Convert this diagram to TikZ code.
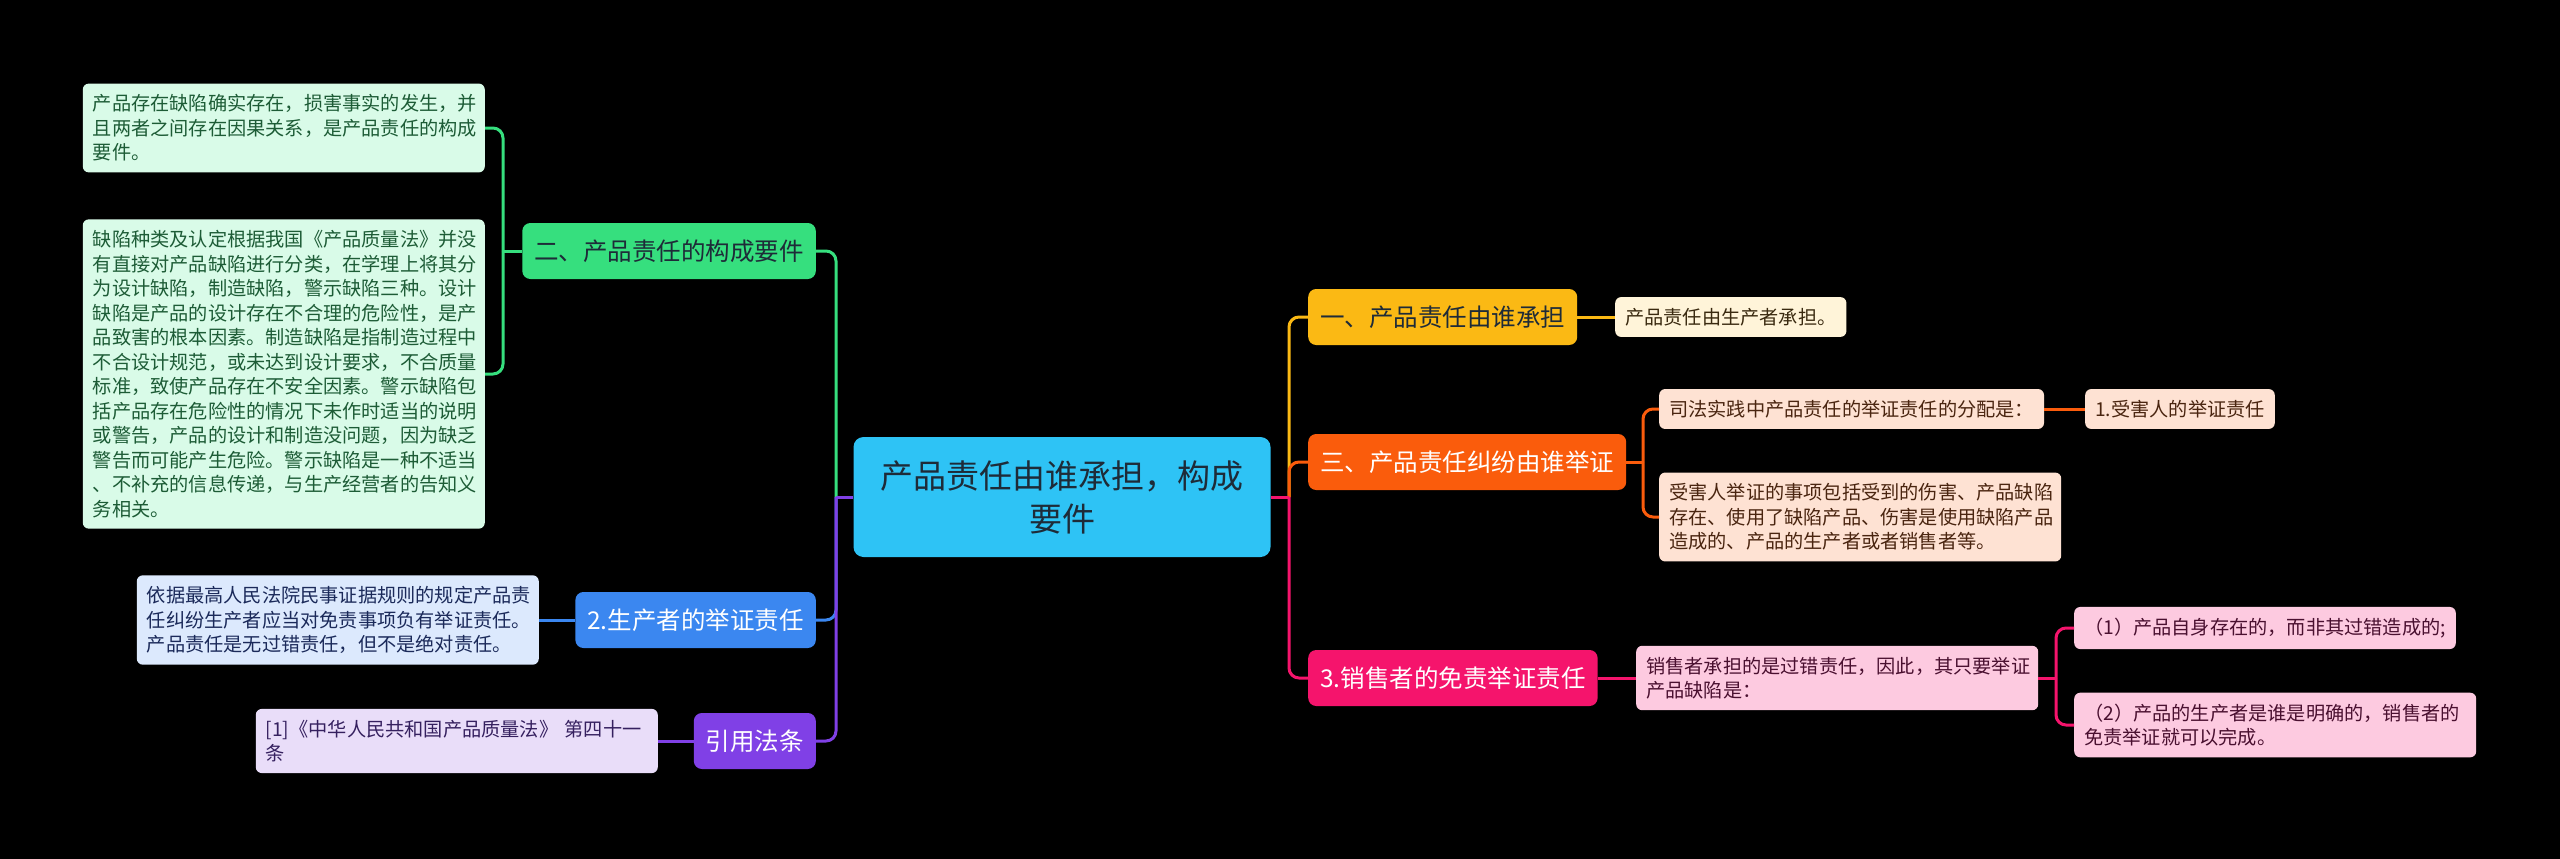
\documentclass[tikz,border=0pt]{standalone}
\usepackage{fontspec}
\setmainfont{Noto Sans CJK SC}
\definecolor{ccyan}{HTML}{2EC3F5}
\definecolor{ctext}{HTML}{1E2B38}
\definecolor{cgreen}{HTML}{36DF7E}
\definecolor{cgreenl}{HTML}{D9FBE8}
\definecolor{cgreent}{HTML}{1D5C36}
\definecolor{cblue}{HTML}{3B87F0}
\definecolor{cbluel}{HTML}{DCE9FD}
\definecolor{cbluet}{HTML}{1B2A5A}
\definecolor{cpurple}{HTML}{8040E6}
\definecolor{cpurplel}{HTML}{E9DDF9}
\definecolor{cpurplet}{HTML}{35205F}
\definecolor{cyellow}{HTML}{FBB914}
\definecolor{cyellowl}{HTML}{FFF4D9}
\definecolor{cyellowt}{HTML}{3A2A10}
\definecolor{corange}{HTML}{FA5C0C}
\definecolor{corangel}{HTML}{FEE2D3}
\definecolor{coranget}{HTML}{4A2510}
\definecolor{cpink}{HTML}{F5146C}
\definecolor{cpinkl}{HTML}{FDCAE0}
\definecolor{cpinkt}{HTML}{4A1030}
\tikzset{
  mainbox/.style={rounded corners=8pt, inner xsep=12pt, inner ysep=0pt, minimum height=56pt, font=\fontsize{24.5}{30}\selectfont},
  leafbox/.style={rounded corners=6pt, inner xsep=10pt, inner ysep=11pt, font=\fontsize{19.2}{24.5}\selectfont, align=left},
  wideleaf/.style={leafbox, text width=382pt},
  conn/.style={line width=3pt},
  rconn/.style={conn, rounded corners=10pt},
}
\begin{document}
\begin{tikzpicture}[x=1pt,y=-1pt]
\fill[black] (0,0) rectangle (2560,859);
\useasboundingbox (0,0) rectangle (2560,859);

% central
\node[fill=ccyan, rounded corners=10pt, minimum width=417pt, minimum height=120pt, align=center, font=\fontsize{33}{43}\selectfont, text=ctext] (c) at (1062,497) {产品责任由谁承担，构成\\要件};

% left main
\node[mainbox, fill=cgreen, text=ctext, anchor=east] (g) at (816,251) {二、产品责任的构成要件};
\node[mainbox, fill=cblue, text=white, anchor=east] (b) at (816,620) {2.生产者的举证责任};
\node[mainbox, fill=cpurple, text=white, anchor=east] (u) at (816,741) {引用法条};

% right main
\node[mainbox, fill=cyellow, text=ctext, anchor=west] (y) at (1308,317) {一、产品责任由谁承担};
\node[mainbox, fill=corange, text=white, anchor=west] (o) at (1308,462) {三、产品责任纠纷由谁举证};
\node[mainbox, fill=cpink, text=white, anchor=west] (p) at (1308,678) {3.销售者的免责举证责任};

% left leaves
\node[wideleaf, fill=cgreenl, text=cgreent, anchor=east] (gl1) at (485,128) {产品存在缺陷确实存在，损害事实的发生，并\\且两者之间存在因果关系，是产品责任的构成\\要件。};
\node[wideleaf, fill=cgreenl, text=cgreent, anchor=east] (gl2) at (485,374) {缺陷种类及认定根据我国《产品质量法》并没\\有直接对产品缺陷进行分类，在学理上将其分\\为设计缺陷，制造缺陷，警示缺陷三种。设计\\缺陷是产品的设计存在不合理的危险性，是产\\品致害的根本因素。制造缺陷是指制造过程中\\不合设计规范，或未达到设计要求，不合质量\\标准，致使产品存在不安全因素。警示缺陷包\\括产品存在危险性的情况下未作时适当的说明\\或警告，产品的设计和制造没问题，因为缺乏\\警告而可能产生危险。警示缺陷是一种不适当\\、不补充的信息传递，与生产经营者的告知义\\务相关。};
\node[wideleaf, fill=cbluel, text=cbluet, anchor=east] (bl) at (539,620) {依据最高人民法院民事证据规则的规定产品责\\任纠纷生产者应当对免责事项负有举证责任。\\产品责任是无过错责任，但不是绝对责任。};
\node[wideleaf, fill=cpurplel, text=cpurplet, anchor=east] (ul) at (658,741) {[1]《中华人民共和国产品质量法》~第四十一\\条};

% right leaves
\node[leafbox, fill=cyellowl, text=cyellowt, anchor=west] (yl) at (1615,317) {产品责任由生产者承担。};
\node[leafbox, fill=corangel, text=coranget, anchor=west] (ol1) at (1659,409) {司法实践中产品责任的举证责任的分配是：};
\node[leafbox, fill=corangel, text=coranget, anchor=west] (ol11) at (2085,409) {1.受害人的举证责任};
\node[wideleaf, fill=corangel, text=coranget, anchor=west] (ol2) at (1659,517) {受害人举证的事项包括受到的伤害、产品缺陷\\存在、使用了缺陷产品、伤害是使用缺陷产品\\造成的、产品的生产者或者销售者等。};
\node[wideleaf, fill=cpinkl, text=cpinkt, anchor=west] (pl) at (1636,678) {销售者承担的是过错责任，因此，其只要举证\\产品缺陷是：};
\node[leafbox, fill=cpinkl, text=cpinkt, anchor=west] (ps1) at (2074,628) {（1）产品自身存在的，而非其过错造成的;};
\node[wideleaf, fill=cpinkl, text=cpinkt, anchor=west] (ps2) at (2074,725) {（2）产品的生产者是谁是明确的，销售者的\\免责举证就可以完成。};

% junction coordinates
\coordinate (LT) at (836,497);
\coordinate (RT) at (1289,497);
\coordinate (GT) at (503,251);
\coordinate (OT) at (1643,462);
\coordinate (PT) at (2056,678);

% center to left mains
\draw[rconn, cgreen] (LT) |- (g.east);
\draw[rconn, cblue] (LT) |- (b.east);
\draw[rconn, cpurple] (LT) |- (u.east);
\draw[conn, cpurple] (c.west) -- (LT);

% center to right mains
\draw[rconn, cyellow] (RT) |- (y.west);
\draw[rconn, corange] (RT) |- (o.west);
\draw[rconn, cpink] (RT) |- (p.west);
\draw[conn, cpink] (c.east) -- (RT);

% green leaves
\draw[conn, cgreen] (g.west) -- (GT);
\draw[rconn, cgreen] (GT) |- (gl1.east);
\draw[rconn, cgreen] (GT) |- (gl2.east);

% blue, purple
\draw[conn, cblue] (b.west) -- (bl.east);
\draw[conn, cpurple] (u.west) -- (ul.east);

% yellow
\draw[conn, cyellow] (y.east) -- (yl.west);

% orange
\draw[conn, corange] (o.east) -- (OT);
\draw[rconn, corange] (OT) |- (ol1.west);
\draw[rconn, corange] (OT) |- (ol2.west);
\draw[conn, corange] (ol1.east) -- (ol11.west);

% pink
\draw[conn, cpink] (p.east) -- (pl.west);
\draw[conn, cpink] (pl.east) -- (PT);
\draw[rconn, cpink] (PT) |- (ps1.west);
\draw[rconn, cpink] (PT) |- (ps2.west);
\end{tikzpicture}
\end{document}
